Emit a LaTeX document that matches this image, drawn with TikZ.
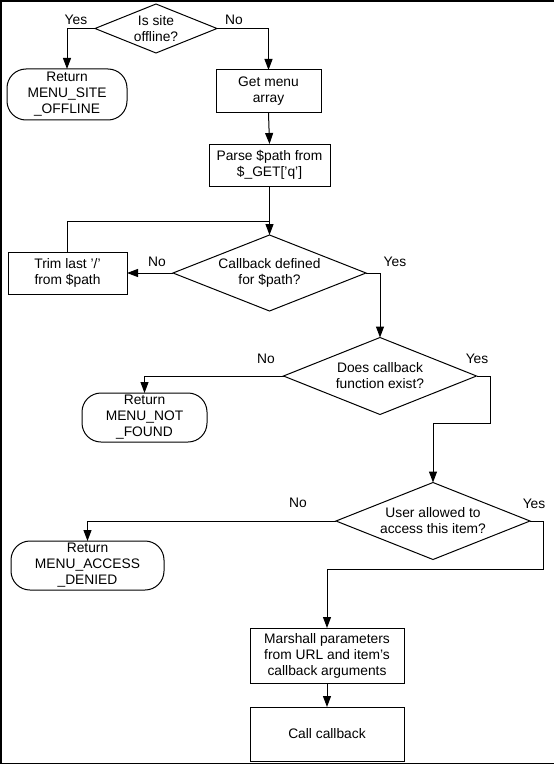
\documentclass[tikz,border=0pt]{standalone}
\usepackage{fontspec}
\setmainfont{Liberation Sans}
\usetikzlibrary{shapes.geometric,arrows.meta}
\newcommand\labfont{\fontsize{13.8pt}{16pt}\selectfont}
\tikzset{
  shp/.style={draw, line width=1pt, inner sep=0pt, outer sep=0pt, align=center, font=\labfont},
  procbox/.style={shp, rectangle},
  termbox/.style={shp, rectangle, rounded corners=19pt},
  decbox/.style={shp, diamond},
  dtext/.style={align=center, font=\labfont, inner sep=0pt},
  lbl/.style={font=\labfont, inner sep=0pt},
  conn/.style={line width=1pt, -{Triangle[length=11pt,width=8pt]}},
  plainconn/.style={line width=1pt},
  frame/.style={line width=1.6pt}
}
\begin{document}
\begin{tikzpicture}[x=1pt,y=-1pt]
\useasboundingbox (0,0) rectangle (554,765);
\draw[frame] (554,0.8) -- (0.8,0.8) -- (0.8,763.6) -- (554,763.6);

% decisions
\node[decbox, minimum width=122pt, minimum height=49pt,
  label={[dtext]center:Is site\\offline?}] (d1) at (156,28.5) {};
\node[decbox, minimum width=193pt, minimum height=76pt,
  label={[dtext]center:Callback defined\\for \$path?}] (d2) at (269.5,273) {};
\node[decbox, minimum width=193pt, minimum height=77pt,
  label={[dtext]center:Does callback\\function exist?}] (d3) at (380,376) {};
\node[decbox, minimum width=194pt, minimum height=77pt,
  label={[dtext]center:User allowed to\\access this item?}] (d4) at (433,521) {};

% terminals
\node[termbox, minimum width=120pt, minimum height=51pt] (t1) at (67,94.5) {Return\\MENU\_SITE\\\_OFFLINE};
\node[termbox, minimum width=125pt, minimum height=49pt] (t2) at (144.5,417.5) {Return\\MENU\_NOT\\\_FOUND};
\node[termbox, minimum width=153pt, minimum height=49pt] (t3) at (87.5,565.5) {Return\\MENU\_ACCESS\\\_DENIED};

% processes
\node[procbox, minimum width=105pt, minimum height=43pt] (gm) at (268.5,91.5) {Get menu\\array};
\node[procbox, minimum width=121pt, minimum height=42pt] (parse) at (269.5,165) {Parse \$path from\\\$\_GET['q']};
\node[procbox, minimum width=119pt, minimum height=42pt] (trim) at (67.5,273) {Trim last '/'\\from \$path};
\node[procbox, minimum width=154pt, minimum height=55pt] (marsh) at (327,655.5) {Marshall parameters\\from URL and item's\\callback arguments};
\node[procbox, minimum width=154pt, minimum height=54pt] (call) at (327,734) {Call callback};

% branch labels
\node[lbl] (y1) at (76,20) {Yes};
\node[lbl] (n1) at (234,20) {No};
\node[lbl] (n2) at (157,262) {No};
\node[lbl] (y2) at (395,262) {Yes};
\node[lbl] (n3) at (266,359) {No};
\node[lbl] (y3) at (477,359) {Yes};
\node[lbl] (n4) at (298,503) {No};
\node[lbl] (y4) at (534,504) {Yes};

% helper coordinates
\coordinate (j2) at (269.5,221);
\coordinate (c3a) at (490,376);
\coordinate (c3b) at (490,423);
\coordinate (c3c) at (433,423);
\coordinate (c4a) at (543,521);
\coordinate (c4b) at (543,569);
\coordinate (c4c) at (327,569);

% connectors
\draw[conn] (d1.west) -| (t1.north);
\draw[conn] (d1.east) -| (gm.north);
\draw[conn] (gm.south) -- (parse.north);
\draw[conn] (parse.south) -- (d2.north);
\draw[plainconn] (trim.north) |- (j2);
\draw[conn] (d2.west) -- (trim.east);
\draw[conn] (d2.east) -| (d3.north);
\draw[conn] (d3.west) -| (t2.north);
\draw[conn] (d3.east) -- (c3a) -- (c3b) -- (c3c) -- (d4.north);
\draw[conn] (d4.west) -| (t3.north);
\draw[conn] (d4.east) -- (c4a) -- (c4b) -- (c4c) -- (marsh.north);
\draw[conn] (marsh.south) -- (call.north);
\end{tikzpicture}
\end{document}
